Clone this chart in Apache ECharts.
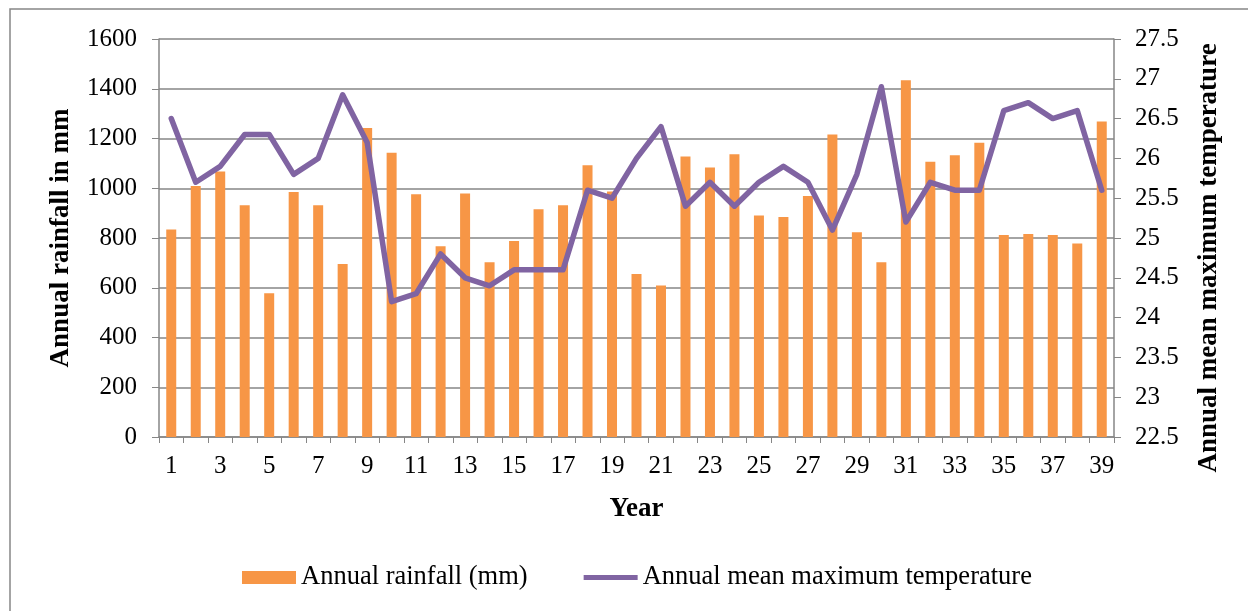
<!DOCTYPE html>
<html>
<head>
<meta charset="utf-8">
<script src="https://cdn.jsdelivr.net/npm/echarts@6/dist/echarts.min.js"></script>
<style>
  html, body { margin: 0; padding: 0; background: #fff; }
  #main { width: 1248px; height: 611px; }
</style>
</head>
<body>
<div id="main"></div>
<script>
// 年份编号 1..39
const years = ['1','2','3','4','5','6','7','8','9','10','11','12','13','14','15','16','17','18','19','20',
  '21','22','23','24','25','26','27','28','29','30','31','32','33','34','35','36','37','38','39'];

// 年降雨量 (mm)
const rainfall = [834, 1009, 1067, 932, 578, 985, 932, 695, 1242, 1143, 976, 767, 979,
  703, 788, 916, 932, 1092, 987, 655, 609, 1128, 1083, 1137, 890, 884,
  969, 1216, 823, 703, 1434, 1107, 1133, 1183, 812, 816, 812, 778, 1268];

// 年平均最高气温
const maxTemp = [26.5, 25.7, 25.9, 26.3, 26.3, 25.8, 26.0, 26.8, 26.2, 24.2, 24.3, 24.8, 24.5,
  24.4, 24.6, 24.6, 24.6, 25.6, 25.5, 26.0, 26.4, 25.4, 25.7, 25.4, 25.7, 25.9,
  25.7, 25.1, 25.8, 26.9, 25.2, 25.7, 25.6, 25.6, 26.6, 26.7, 26.5, 26.6, 25.6];

const seriesNames = ['Annual rainfall (mm)', 'Annual mean maximum temperature'];

const font = '"Liberation Serif", "Times New Roman", serif';
const grey = '#868686';

const myChart = echarts.init(document.getElementById('main'));

const option = {
  backgroundColor: '#fff',
  textStyle: { fontFamily: font, color: '#000' },
  animation: false,
  // 外框
  graphic: [{
    type: 'rect',
    shape: { x: 10, y: 9, width: 1260, height: 620 },
    style: { fill: 'none', stroke: grey, lineWidth: 1.5 },
    silent: true
  }],
  grid: { left: 159, right: 134, top: 39, bottom: 174 },
  legend: {
    bottom: 15,
    left: 237,
    itemWidth: 54,
    itemHeight: 13,
    itemGap: 56,
    textStyle: { fontFamily: font, fontSize: 26.5, color: '#000' },
    data: [
      { name: seriesNames[0], icon: 'rect' },
      { name: seriesNames[1], icon: 'path://M0,0 L54,0 L54,5 L0,5 Z' }
    ]
  },
  xAxis: {
    type: 'category',
    data: years,
    boundaryGap: true,
    name: 'Year',
    nameLocation: 'middle',
    nameGap: 59,
    nameTextStyle: { fontFamily: font, fontSize: 27, fontWeight: 'bold', color: '#000' },
    axisLine: { lineStyle: { color: grey, width: 1.5 } },
    axisTick: { show: true, interval: 0, length: 6, lineStyle: { color: grey } },
    axisLabel: { interval: 1, margin: 17, fontSize: 25, color: '#000', fontFamily: font }
  },
  yAxis: [{
    type: 'value',
    min: 0,
    max: 1600,
    interval: 200,
    name: 'Annual rainfall in mm',
    nameLocation: 'middle',
    nameGap: 84,
    nameRotate: 90,
    nameTextStyle: { fontFamily: font, fontSize: 27, fontWeight: 'bold', color: '#000' },
    axisLine: { show: true, lineStyle: { color: grey, width: 1.5 } },
    axisTick: { show: true, length: 7, lineStyle: { color: grey } },
    axisLabel: { margin: 22, fontSize: 25, color: '#000', fontFamily: font, formatter: v => String(v) },
    splitLine: { show: true, lineStyle: { color: grey, width: 1.5 } }
  }, {
    type: 'value',
    min: 22.5,
    max: 27.5,
    interval: 0.5,
    position: 'right',
    name: 'Annual mean maximum temperature',
    nameLocation: 'middle',
    nameGap: 82,
    nameRotate: 90,
    nameTextStyle: { fontFamily: font, fontSize: 27, fontWeight: 'bold', color: '#000', padding: [0, 40, 0, 0] },
    axisLine: { show: true, lineStyle: { color: grey, width: 1.5 } },
    axisTick: { show: true, length: 7, lineStyle: { color: grey } },
    axisLabel: { margin: 21, fontSize: 25, color: '#000', fontFamily: font },
    splitLine: { show: false }
  }],
  series: [{
    name: seriesNames[0],
    type: 'bar',
    data: rainfall,
    barWidth: 10,
    itemStyle: { color: '#F79646' }
  }, {
    name: seriesNames[1],
    type: 'line',
    yAxisIndex: 1,
    data: maxTemp,
    symbol: 'none',
    lineStyle: { color: '#8064A2', width: 5.5, cap: 'round', join: 'round' },
    itemStyle: { color: '#8064A2' }
  }]
};

myChart.setOption(option);
window.addEventListener('resize', () => myChart.resize());
</script>
</body>
</html>
